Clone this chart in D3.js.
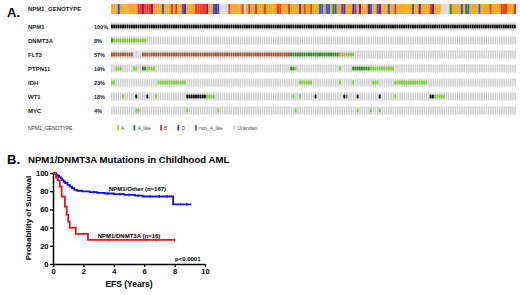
<!DOCTYPE html>
<html>
<head>
<meta charset="utf-8">
<script src="https://cdn.jsdelivr.net/npm/d3@7"></script>
<style>
  body { margin: 0; background: #fff; }
  svg { font-family: "Liberation Sans", Arial, sans-serif; }
</style>
</head>
<body>
<div id="chart"></div>
<script>
// ---- Panel A data (oncoprint) ----
const nPatients = 183;
// genotype code per patient: A, L = A_like, B, D, N = non_A_like, U = Unknown
const genotypeCodes =
  "AAALAAAAAAAABBDBBBDAAAALAAABABAALDAAAABBBBBDAALDLUUUUBAAAAABUABAABAAABAAAAABBAAABAAAADABAABAAALLALLANLAALDAAADLADAAADLAALDAAALAABAAAAAAALAADAAAABDAAAUUUUNAAAALANLAAAALAAAABAAAABBBAAAB";
const genotypeLegend = ["A", "A_like", "B", "D", "non_A_like", "Unknown"];
const genotypeKeys = ["A", "L", "B", "D", "N", "U"];

const genes = ["NPM1", "DNMT3A", "FLT3", "PTPN11", "IDH", "WT1", "MYC"];
const genePct = ["100%", "8%", "57%", "19%", "23%", "18%", "4%"];

// mutation runs: [first patient, last patient, type]
const npm1Mut = [[0, 182, "trunc"]];
const dnmt3aMut = [[0, 0, "driver"], [1, 15, "missense"]];
const flt3Mut = [[0, 9, "inframe"], [14, 80, "inframe"], [81, 102, "driver"], [103, 105, "other"], [106, 109, "missense"]];
const ptpn11Mut = [[2, 4, "missense"], [10, 11, "missense"], [14, 15, "driver"], [16, 19, "missense"], [81, 82, "driver"],
  [83, 83, "missense"], [103, 103, "missense"], [109, 116, "driver"], [117, 127, "missense"]];
const idhMut = [[0, 1, "missense"], [21, 33, "missense"], [85, 90, "missense"], [103, 103, "missense"], [109, 109, "missense"],
  [118, 120, "missense"], [128, 142, "missense"]];
const wt1Mut = [[5, 5, "missense"], [11, 11, "trunc"], [16, 16, "trunc"], [20, 20, "missense"], [34, 42, "trunc"], [43, 46, "missense"],
  [82, 82, "missense"], [85, 85, "missense"], [92, 92, "trunc"], [105, 105, "trunc"], [106, 106, "grey"], [111, 111, "trunc"],
  [121, 121, "trunc"], [128, 128, "missense"], [144, 145, "trunc"], [146, 150, "missense"]];
const mycMut = [[11, 12, "missense"], [34, 34, "missense"], [48, 48, "missense"], [83, 83, "missense"], [111, 111, "missense"],
  [117, 117, "missense"], [121, 121, "missense"]];

// ---- Panel B data (Kaplan-Meier, EFS) ----
const kmOther = [[0, 100], [0.1, 99.4], [0.2, 98.2], [0.3, 97], [0.4, 95.8], [0.5, 94], [0.6, 92.2], [0.7, 90.4], [0.8, 89],
  [0.95, 87], [1.1, 85], [1.25, 83.3], [1.4, 81.5], [1.6, 80.5], [1.9, 79.8], [2.4, 79], [2.9, 78.2], [3.4, 77.5], [4.0, 76.8],
  [4.7, 76], [5.4, 75.2], [5.9, 74.2], [7.9, 65.6], [9.1, 65.6]];
const kmOtherCensor = [2.7, 3.6, 4.4, 5.0, 5.6, 6.4, 7.0, 7.5, 8.4, 8.8];
const kmDnmt3a = [[0, 100], [0.2, 95], [0.32, 92], [0.45, 85], [0.57, 74], [0.78, 63], [0.9, 54], [1.0, 46.5], [1.1, 40],
  [1.5, 33], [2.3, 26.5], [8.0, 26.5]];
const kmDnmt3aCensor = [3.7, 6.1, 6.8, 8.0];
const yTicks = [0, 20, 40, 60, 80, 100];
const xTicks = [0, 2, 4, 6, 8, 10];

const svg = d3.select("#chart").append("svg").attr("width", 520).attr("height", 295);

// ---------- Panel A ----------
const genoColor = d3.scaleOrdinal().domain(genotypeKeys)
  .range(["#f7a928", "#3561d6", "#e6402a", "#8a1c8a", "#2f8f2f", "#dcdcdc"]);
const mutColor = { trunc: "#111111", missense: "#84cc3c", driver: "#2f8a22", inframe: "#a9533a", other: "#d49a5a", grey: "#777777" };
const geneMuts = [npm1Mut, dnmt3aMut, flt3Mut, ptpn11Mut, idhMut, wt1Mut, mycMut];

const x = d3.scaleBand().domain(d3.range(nPatients)).range([111, 516]).paddingInner(0.3);
const xFull = d3.scaleBand().domain(d3.range(nPatients)).range([111, 516]);
const row = d3.scaleBand().domain(genes).range([22.5, 114.5]).paddingInner(0.43);

svg.append("text").attr("x", 7).attr("y", 17).text("A.")
  .style("font-size", "13px").style("font-weight", "bold");
svg.append("text").attr("x", 28).attr("y", 11).text("NPM1_GENOTYPE")
  .style("font-size", "6px").style("font-weight", "bold").attr("fill", "#222");

svg.append("g").selectAll("rect").data(genotypeCodes.split(""))
  .join("rect")
  .attr("x", (d, i) => xFull(i))
  .attr("y", 4)
  .attr("width", xFull.bandwidth() + 0.1)
  .attr("height", 10)
  .attr("fill", d => genoColor(d));

const rows = svg.append("g").selectAll("g").data(genes).join("g")
  .attr("transform", d => `translate(0,${row(d)})`);

rows.append("text").attr("x", 28).attr("y", row.bandwidth() / 2 + 2.2).text(d => d)
  .style("font-size", "6px").style("font-weight", "bold").attr("fill", "#222");
rows.append("text").attr("x", 94).attr("y", row.bandwidth() / 2 + 2.2).text((d, i) => genePct[i])
  .style("font-size", "5.5px").style("font-weight", "bold").attr("fill", "#222");

rows.selectAll("rect.bg").data(d3.range(nPatients)).join("rect")
  .attr("class", "bg")
  .attr("x", i => x(i)).attr("y", 0)
  .attr("width", x.bandwidth()).attr("height", row.bandwidth())
  .attr("fill", "#d0d0d0");

rows.each(function (g, gi) {
  const cells = [];
  geneMuts[gi].forEach(([a, b, t]) => d3.range(a, b + 1).forEach(i => cells.push({ i, t })));
  d3.select(this).selectAll("rect.mut").data(cells).join("rect")
    .attr("class", "mut")
    .attr("x", d => xFull(d.i)).attr("y", row.bandwidth() * 0.27)
    .attr("width", xFull.bandwidth() * 0.85).attr("height", row.bandwidth() * 0.46)
    .attr("fill", d => mutColor[d.t]);
});

// legend
svg.append("text").attr("x", 28).attr("y", 129.5).text("NPM1_GENOTYPE")
  .style("font-size", "5px").attr("fill", "#333");
const legX = [117, 133.5, 160, 177.5, 195, 233.5];
const leg = svg.append("g").selectAll("g").data(genotypeLegend).join("g")
  .attr("transform", (d, i) => `translate(${legX[i]},125)`);
leg.append("rect").attr("width", 1.8).attr("height", 5.5).attr("fill", (d, i) => genoColor(genotypeKeys[i]));
leg.append("text").attr("x", 4).attr("y", 4.6).text(d => d).style("font-size", "4.8px").attr("fill", "#444");

// ---------- Panel B ----------
svg.append("text").attr("x", 7).attr("y", 164).text("B.")
  .style("font-size", "13px").style("font-weight", "bold");
svg.append("text").attr("x", 28).attr("y", 163).text("NPM1/DNMT3A Mutations in Childhood AML")
  .style("font-size", "9.6px").style("font-weight", "bold");

const kx = d3.scaleLinear().domain([0, 10]).range([53, 205]);
const ky = d3.scaleLinear().domain([0, 100]).range([264, 173]);

const axisStyle = g => {
  g.select(".domain").attr("stroke-width", 1.5);
  g.selectAll(".tick line").attr("stroke-width", 1.3);
  g.selectAll(".tick text").style("font-size", "7.5px").style("font-weight", "bold")
    .style("font-family", "'Liberation Sans', Arial, sans-serif").attr("fill", "#000");
};
svg.append("g").attr("transform", "translate(53,0)")
  .call(d3.axisLeft(ky).tickValues(yTicks).tickSize(3).tickSizeOuter(0).tickPadding(1.5))
  .call(axisStyle);
svg.append("g").attr("transform", "translate(0,264)")
  .call(d3.axisBottom(kx).tickValues(xTicks).tickSize(3).tickSizeOuter(0).tickPadding(1.5))
  .call(axisStyle);

svg.append("text").attr("x", 129).attr("y", 287).attr("text-anchor", "middle").text("EFS (Years)")
  .style("font-size", "8.5px").style("font-weight", "bold");
svg.append("text").attr("transform", "translate(31,218) rotate(-90)").attr("text-anchor", "middle")
  .text("Probability of Survival").style("font-size", "8px").style("font-weight", "bold");

const kmLine = d3.line().x(d => kx(d[0])).y(d => ky(d[1])).curve(d3.curveStepAfter);
const stepAt = (data, t) => { let v = data[0][1]; data.forEach(d => { if (d[0] <= t) v = d[1]; }); return v; };

[[kmOther, kmOtherCensor, "#1010e0"], [kmDnmt3a, kmDnmt3aCensor, "#e3171c"]].forEach(([data, cens, col]) => {
  svg.append("path").datum(data).attr("d", kmLine)
    .attr("fill", "none").attr("stroke", col).attr("stroke-width", 1.8);
  svg.append("g").selectAll("line").data(cens).join("line")
    .attr("x1", d => kx(d)).attr("x2", d => kx(d))
    .attr("y1", d => ky(stepAt(data, d)) - 1.5).attr("y2", d => ky(stepAt(data, d)) + 1.5)
    .attr("stroke", col).attr("stroke-width", 1);
});

svg.append("text").attr("x", 137.5).attr("y", 191).attr("text-anchor", "middle").text("NPM1/Other (n=167)")
  .style("font-size", "6px").style("font-weight", "bold");
svg.append("text").attr("x", 129).attr("y", 237.5).attr("text-anchor", "middle").text("NPM1/DNMT3A (n=16)")
  .style("font-size", "6px").style("font-weight", "bold");
svg.append("text").attr("x", 175).attr("y", 260.5).text("p<0.0001")
  .style("font-size", "6px").style("font-weight", "bold");
</script>
</body>
</html>
